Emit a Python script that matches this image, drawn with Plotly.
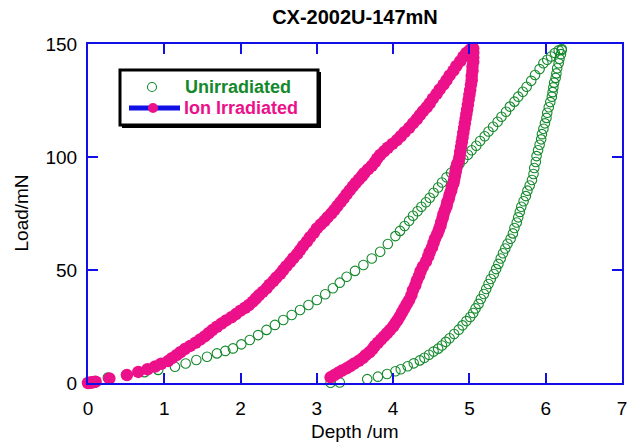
import plotly.graph_objects as go

# ---------------- data ----------------
# Unirradiated: loading branch (depth um, load mN)
unirr_load_depth = [0.05, 0.26, 0.50, 0.74, 0.92, 1.14, 1.28, 1.42, 1.56, 1.69, 1.80, 1.90, 2.01, 2.12, 2.23,
                    2.34, 2.45, 2.56, 2.67, 2.78, 2.89, 3.00, 3.11, 3.21, 3.30, 3.39, 3.50, 3.61, 3.72, 3.83,
                    3.93, 4.03, 4.09, 4.15, 4.21, 4.26, 4.32, 4.37, 4.43, 4.48, 4.53, 4.59, 4.64, 4.70, 4.76,
                    4.81, 4.87, 4.92, 4.98, 5.03, 5.09, 5.14, 5.20, 5.25, 5.31, 5.37, 5.42, 5.48, 5.53, 5.59,
                    5.64, 5.70, 5.75, 5.81, 5.86, 5.92, 5.97, 6.02, 6.07, 6.12, 6.17, 6.21]
unirr_load_force = [0.3, 2.4, 3.6, 4.8, 5.8, 7.2, 8.6, 10.2, 11.6, 13.1, 14.2, 15.3, 17.1, 19.0, 21.2,
                    23.5, 25.7, 27.9, 30.1, 32.3, 34.5, 36.7, 39.3, 41.9, 44.4, 47.0, 49.6, 52.2, 55.1, 58.1,
                    61.5, 65.0, 67.3, 69.5, 71.8, 74.0, 76.0, 78.0, 80.0, 82.0, 84.2, 86.5, 88.7, 91.0, 93.0,
                    95.0, 97.0, 99.0, 101.0, 103.0, 105.0, 107.1, 109.2, 111.3, 113.4, 115.6, 117.8, 120.0, 122.3, 124.5,
                    126.7, 128.9, 131.1, 133.7, 136.3, 138.9, 141.5, 143.0, 144.5, 146.0, 147.2, 147.8]

# Unirradiated: unloading branch
unirr_unload_depth = [6.21, 6.20, 6.18, 6.17, 6.15, 6.14, 6.13, 6.11, 6.10, 6.09, 6.08, 6.06, 6.04, 6.02, 6.01,
                      5.99, 5.97, 5.95, 5.94, 5.92, 5.90, 5.88, 5.87, 5.85, 5.84, 5.82, 5.79, 5.76, 5.74, 5.71,
                      5.68, 5.66, 5.64, 5.62, 5.59, 5.57, 5.54, 5.50, 5.47, 5.44, 5.41, 5.38, 5.35, 5.32, 5.28,
                      5.25, 5.22, 5.19, 5.15, 5.12, 5.08, 5.05, 5.01, 4.96, 4.91, 4.86, 4.80, 4.74, 4.69, 4.64,
                      4.59, 4.53, 4.47, 4.41, 4.35, 4.27, 4.19, 4.10, 4.03, 3.92, 3.80, 3.66, 3.30, 3.18]
unirr_unload_force = [147.3, 145.5, 143.5, 141.5, 139.3, 137.0, 135.0, 132.9, 130.8, 128.7, 126.7, 124.3, 122.0, 119.6, 117.3,
                      114.9, 112.5, 110.1, 107.8, 105.4, 103.0, 100.4, 97.8, 95.1, 92.5, 89.8, 87.4, 85.1, 82.7, 80.4,
                      78.0, 75.7, 73.3, 71.0, 68.6, 66.2, 63.8, 61.6, 59.5, 57.4, 55.1, 52.7, 50.4, 48.2, 46.0,
                      43.8, 41.6, 39.4, 37.2, 35.0, 33.0, 31.0, 29.2, 27.4, 25.5, 23.6, 21.7, 19.8, 18.2, 16.6,
                      15.2, 13.9, 12.5, 11.2, 10.0, 8.7, 7.4, 6.1, 5.2, 4.0, 2.8, 1.7, 0.2, 0.1]

# Ion irradiated: loading branch
ion_load_depth = [0.00, 0.02, 0.04, 0.06, 0.08, 0.10, 0.28, 0.51, 0.66, 0.78, 0.88, 0.96, 1.05, 1.10, 1.16,
                  1.21, 1.27, 1.34, 1.41, 1.47, 1.53, 1.58, 1.63, 1.69, 1.75, 1.81, 1.88, 1.94, 2.00, 2.06,
                  2.11, 2.16, 2.20, 2.24, 2.29, 2.34, 2.38, 2.43, 2.47, 2.52, 2.56, 2.60, 2.65, 2.69, 2.74,
                  2.78, 2.82, 2.87, 2.91, 2.96, 3.00, 3.05, 3.10, 3.14, 3.19, 3.23, 3.27, 3.31, 3.35, 3.39,
                  3.43, 3.47, 3.51, 3.55, 3.59, 3.62, 3.67, 3.72, 3.76, 3.79, 3.83, 3.88, 3.93, 3.99, 4.05,
                  4.10, 4.15, 4.21, 4.26, 4.31, 4.35, 4.39, 4.44, 4.48, 4.52, 4.57, 4.61, 4.66, 4.70, 4.74,
                  4.79, 4.83, 4.88, 4.92, 4.96, 5.00, 5.03]
ion_load_force = [0.0, 0.1, 0.2, 0.3, 0.4, 0.6, 2.0, 3.5, 4.9, 6.1, 7.3, 8.5, 9.7, 11.0, 12.3,
                  13.6, 15.0, 16.4, 17.8, 19.2, 20.6, 22.0, 23.4, 24.9, 26.3, 27.7, 29.1, 30.5, 32.0, 33.3,
                  34.5, 36.0, 37.4, 38.8, 40.3, 41.9, 43.5, 45.1, 46.7, 48.3, 50.0, 51.7, 53.5, 55.2, 57.0,
                  58.8, 60.7, 62.6, 64.5, 66.4, 68.4, 70.1, 71.7, 73.3, 75.0, 76.6, 78.3, 80.0, 81.7, 83.5,
                  85.2, 86.9, 88.5, 90.0, 91.5, 92.8, 94.5, 96.1, 97.7, 99.3, 100.9, 102.5, 104.1, 105.8, 107.5,
                  109.2, 111.0, 112.9, 114.9, 116.7, 118.5, 120.2, 122.0, 123.8, 125.8, 127.9, 129.9, 132.0, 134.0, 136.1,
                  138.2, 140.3, 142.4, 144.4, 146.0, 147.2, 148.0]

# Ion irradiated: unloading branch
ion_unload_depth = [5.05, 5.05, 5.05, 5.05, 5.04, 5.04, 5.03, 5.03, 5.02, 5.01, 5.00, 4.99, 4.98, 4.97, 4.96,
                    4.95, 4.94, 4.93, 4.92, 4.91, 4.90, 4.89, 4.88, 4.87, 4.86, 4.84, 4.83, 4.82, 4.81, 4.80,
                    4.79, 4.77, 4.76, 4.74, 4.73, 4.71, 4.70, 4.68, 4.66, 4.65, 4.63, 4.62, 4.60, 4.58, 4.55,
                    4.53, 4.51, 4.48, 4.46, 4.43, 4.39, 4.36, 4.34, 4.31, 4.29, 4.26, 4.24, 4.21, 4.18, 4.15,
                    4.12, 4.09, 4.06, 4.03, 4.00, 3.96, 3.92, 3.88, 3.84, 3.80, 3.76, 3.73, 3.69, 3.64, 3.60,
                    3.55, 3.49, 3.44, 3.39, 3.33, 3.28, 3.23, 3.18]
ion_unload_force = [148.0, 146.0, 144.0, 142.0, 140.0, 138.0, 136.0, 134.0, 132.0, 129.6, 127.5, 125.4, 123.2, 121.1, 119.0,
                    117.0, 114.9, 112.8, 110.7, 108.6, 106.5, 104.4, 102.2, 100.1, 98.4, 96.8, 95.1, 93.4, 91.7, 90.0,
                    88.4, 86.7, 85.0, 83.3, 81.6, 80.0, 78.2, 76.5, 74.7, 73.0, 71.2, 69.5, 67.8, 66.0, 64.0,
                    62.0, 60.0, 58.0, 56.0, 53.7, 51.5, 49.5, 47.4, 45.3, 43.2, 41.1, 38.9, 36.7, 35.0, 33.2,
                    31.4, 29.6, 27.9, 26.5, 25.0, 23.5, 22.0, 20.6, 19.2, 17.8, 16.4, 15.0, 13.6, 12.3, 11.0,
                    9.8, 8.6, 7.5, 6.5, 5.5, 4.5, 3.5, 2.5]

x_ticks = [0, 1, 2, 3, 4, 5, 6, 7]
y_ticks = [0, 50, 100, 150]
title_text = "CX-2002U-147mN"
x_title = "Depth /um"
y_title = "Load/mN"
series_names = ["Unirradiated", "Ion Irradiated"]

# ---------------- style ----------------
GREEN = "#14892C"
PINK = "#EC108A"
BLUE = "#0F0FE6"
FONT = "Liberation Sans, Arial, sans-serif"

fig = go.Figure()

fig.add_trace(go.Scatter(
    x=unirr_load_depth + unirr_unload_depth,
    y=unirr_load_force + unirr_unload_force,
    mode="markers", name=series_names[0], showlegend=False, cliponaxis=False,
    marker=dict(symbol="circle-open", size=9.5, color=GREEN, line=dict(width=1.1, color=GREEN)),
))
fig.add_trace(go.Scatter(
    x=ion_load_depth + ion_unload_depth,
    y=ion_load_force + ion_unload_force,
    mode="markers", name=series_names[1], showlegend=False, cliponaxis=False,
    marker=dict(symbol="circle", size=12.5, color=PINK, line=dict(width=0)),
))

axis_common = dict(
    showline=True, linecolor=BLUE, linewidth=2, mirror="allticks",
    ticks="inside", ticklen=10, tickwidth=2, tickcolor=BLUE,
    showgrid=False, zeroline=False, automargin=False,
    tickfont=dict(family=FONT, size=19, color="black"),
)

fig.update_xaxes(range=[0, 7], tickvals=x_ticks, ticktext=[str(v) for v in x_ticks],
                 ticklabelstandoff=7, **axis_common)
fig.update_yaxes(range=[0, 150], tickvals=y_ticks, ticktext=[str(v) for v in y_ticks],
                 ticklabelstandoff=5, **axis_common)

# ---- pixel -> paper helpers (plot area: x 88..622, y 44..383) ----
def px(x):
    return (x - 88) / 534.0

def py(y):
    return (383 - y) / 339.0

shapes = [
    dict(type="rect", xref="paper", yref="paper", x0=px(122), x1=px(321), y0=py(128), y1=py(72),
         fillcolor="black", line=dict(width=0), layer="above"),
    dict(type="rect", xref="paper", yref="paper", x0=px(120), x1=px(318), y0=py(125), y1=py(70),
         fillcolor="white", line=dict(color="black", width=3), layer="above"),
    dict(type="circle", xref="paper", yref="paper", x0=px(147.5), x1=px(156.5), y0=py(91.5), y1=py(82.5),
         fillcolor="white", line=dict(color=GREEN, width=1.1), layer="above"),
    dict(type="line", xref="paper", yref="paper", x0=px(129), x1=px(180), y0=py(108), y1=py(108),
         line=dict(color=BLUE, width=5), layer="above"),
    dict(type="circle", xref="paper", yref="paper", x0=px(148), x1=px(158), y0=py(113), y1=py(103),
         fillcolor=PINK, line=dict(color=PINK, width=0), layer="above"),
]

annotations = [
    dict(text="<b>" + series_names[0] + "</b>", xref="paper", yref="paper", x=px(183), y=py(87),
         xanchor="left", yanchor="middle", showarrow=False,
         font=dict(family=FONT, size=18, color=GREEN)),
    dict(text="<b>" + series_names[1] + "</b>", xref="paper", yref="paper", x=px(182), y=py(108),
         xanchor="left", yanchor="middle", showarrow=False,
         font=dict(family=FONT, size=18, color=PINK)),
    dict(text=x_title, xref="paper", yref="paper", x=0.5, y=py(431),
         xanchor="center", yanchor="middle", showarrow=False,
         font=dict(family=FONT, size=19, color="black")),
    dict(text=y_title, xref="paper", yref="paper", x=px(21), y=0.5, textangle=-90,
         xanchor="center", yanchor="middle", showarrow=False,
         font=dict(family=FONT, size=19, color="black")),
]

fig.update_layout(
    width=630, height=442,
    margin=dict(l=88, r=8, t=44, b=59, autoexpand=False),
    paper_bgcolor="white", plot_bgcolor="white",
    title=dict(text="<b>" + title_text + "</b>", x=0.5, xref="paper", xanchor="center",
               y=1 - 17 / 442, yref="container", yanchor="middle",
               font=dict(family=FONT, size=20, color="black"), automargin=False),
    shapes=shapes, annotations=annotations, showlegend=False,
)

fig.write_html("out.html")
